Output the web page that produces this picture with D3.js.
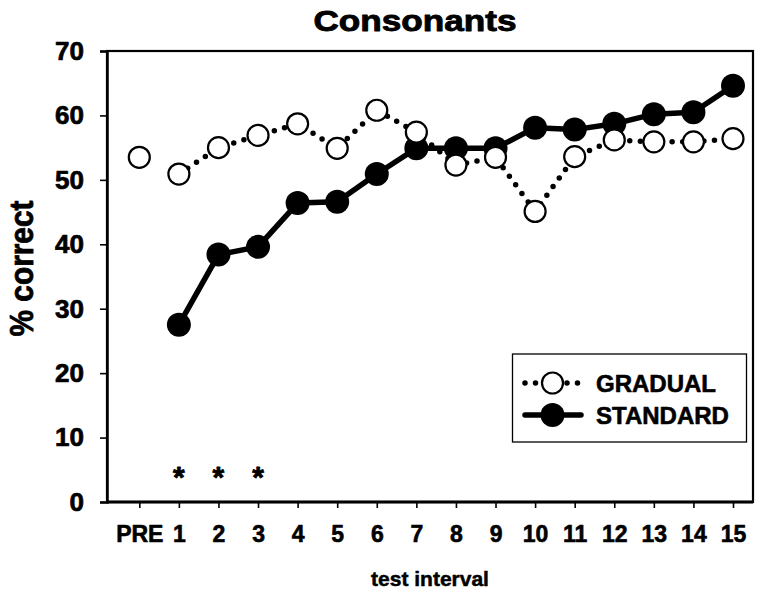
<!DOCTYPE html>
<html>
<head>
<meta charset="utf-8">
<script src="https://cdn.jsdelivr.net/npm/d3@7/dist/d3.min.js"></script>
<style>
  html, body { margin: 0; padding: 0; background: #fff; }
  svg { display: block; font-family: "Liberation Sans", Arial, Helvetica, sans-serif; font-weight: bold; }
</style>
</head>
<body>
<svg id="chart" width="762" height="594"></svg>
<script>
// ---- data ----
const categories = ["PRE","1","2","3","4","5","6","7","8","9","10","11","12","13","14","15"];
const gradual  = [53.5, 50.9, 55.0, 56.9, 58.7, 54.9, 60.8, 57.4, 52.3, 53.5, 45.1, 53.6, 56.2, 55.9, 55.9, 56.4];
const standard = [null, 27.5, 38.4, 39.6, 46.4, 46.6, 50.9, 54.9, 54.9, 54.9, 58.1, 57.8, 58.7, 60.2, 60.5, 64.6];
const significant = ["1","2","3"];
const yTicks = [0, 10, 20, 30, 40, 50, 60, 70];
const seriesNames = ["GRADUAL", "STANDARD"];

// ---- layout ----
const svg = d3.select("#chart");
const frame = { left: 107, right: 753, top: 51, bottom: 502 };

const x = d3.scalePoint().domain(categories).range([139.3, 733]);
const y = d3.scaleLinear().domain([0, 70]).range([frame.bottom, frame.top]);

function heavy(sel, w) {
  return sel.attr("fill", "#000").attr("stroke", "#000").attr("stroke-width", w)
    .attr("stroke-linejoin", "round").attr("font-weight", "bold")
    .attr("font-family", "Liberation Sans, Arial, sans-serif");
}

// frame (top & right)
svg.append("rect")
  .attr("x", frame.left).attr("y", frame.top)
  .attr("width", frame.right - frame.left).attr("height", frame.bottom - frame.top)
  .attr("fill", "none").attr("stroke", "#000").attr("stroke-width", 2.2);

// y axis
const yAxis = svg.append("g")
  .attr("transform", `translate(${frame.left},0)`)
  .call(d3.axisLeft(y).tickValues(yTicks).tickSize(7).tickPadding(16).tickFormat(d3.format("d")));
yAxis.select(".domain").attr("stroke-width", 2.5);
yAxis.selectAll(".tick line").attr("stroke-width", 1.6);
heavy(yAxis.selectAll("text").attr("font-size", 26), 0.7);

// x axis
const xAxis = svg.append("g")
  .attr("transform", `translate(0,${frame.bottom})`)
  .call(d3.axisBottom(x).tickSize(6).tickPadding(18).tickSizeOuter(0));
xAxis.select(".domain").attr("d", `M${frame.left},0H${frame.right}`).attr("stroke-width", 3);
xAxis.selectAll(".tick line").attr("stroke-width", 1.6);
heavy(xAxis.selectAll("text").attr("font-size", 23), 0.6);

// titles
heavy(svg.append("text").attr("x", 415).attr("y", 31).attr("text-anchor", "middle")
  .attr("font-size", 30).attr("textLength", 203).attr("lengthAdjust", "spacingAndGlyphs")
  .text("Consonants"), 0.9);
heavy(svg.append("text").attr("x", 430).attr("y", 586).attr("text-anchor", "middle")
  .attr("font-size", 21).text("test interval"), 0.5);
heavy(svg.append("text")
  .attr("transform", "translate(33,268.5) rotate(-90)")
  .attr("text-anchor", "middle").attr("font-size", 33)
  .attr("textLength", 136).attr("lengthAdjust", "spacingAndGlyphs")
  .text("% correct"), 0.8);

// significance stars
heavy(svg.selectAll("text.star").data(significant).enter().append("text")
  .attr("class", "star").attr("x", d => x(d)).attr("y", 487)
  .attr("text-anchor", "middle").attr("font-size", 30).text("*"), 0.8);

// STANDARD series
const stdData = categories.map((c, i) => ({ c, v: standard[i] })).filter(d => d.v != null);
const line = d3.line().x(d => x(d.c)).y(d => y(d.v));
svg.append("path").datum(stdData).attr("d", line)
  .attr("fill", "none").attr("stroke", "#000").attr("stroke-width", 5.5)
  .attr("stroke-linejoin", "round");
svg.selectAll("circle.std").data(stdData).enter().append("circle")
  .attr("class", "std").attr("cx", d => x(d.c)).attr("cy", d => y(d.v))
  .attr("r", 12).attr("fill", "#000");

// GRADUAL series (PRE not connected)
const gradData = categories.map((c, i) => ({ c, v: gradual[i] }));
svg.append("path").datum(gradData.slice(1)).attr("d", line)
  .attr("fill", "none").attr("stroke", "#000").attr("stroke-width", 5.5)
  .attr("stroke-linecap", "round").attr("stroke-dasharray", "0 10.6");
svg.selectAll("circle.grad").data(gradData).enter().append("circle")
  .attr("class", "grad").attr("cx", d => x(d.c)).attr("cy", d => y(d.v))
  .attr("r", 10.5).attr("fill", "#fff").attr("stroke", "#000").attr("stroke-width", 2.2);

// legend
const lg = svg.append("g");
lg.append("rect").attr("x", 512.5).attr("y", 354).attr("width", 234).attr("height", 88)
  .attr("fill", "#fff").attr("stroke", "#000").attr("stroke-width", 1.3);
const rows = [{ name: seriesNames[0], cy: 383 }, { name: seriesNames[1], cy: 415 }];
// gradual symbol
lg.append("line").attr("x1", 525).attr("x2", 580).attr("y1", rows[0].cy).attr("y2", rows[0].cy)
  .attr("stroke", "#000").attr("stroke-width", 5.5).attr("stroke-linecap", "round")
  .attr("stroke-dasharray", "0 10.5");
lg.append("circle").attr("cx", 552.5).attr("cy", rows[0].cy).attr("r", 10.5)
  .attr("fill", "#fff").attr("stroke", "#000").attr("stroke-width", 2.2);
// standard symbol
lg.append("line").attr("x1", 525).attr("x2", 581).attr("y1", rows[1].cy).attr("y2", rows[1].cy)
  .attr("stroke", "#000").attr("stroke-width", 5.5).attr("stroke-linecap", "round");
lg.append("circle").attr("cx", 552.5).attr("cy", rows[1].cy).attr("r", 12).attr("fill", "#000");
heavy(lg.selectAll("text.lab").data(rows).enter().append("text").attr("class", "lab")
  .attr("x", 596).attr("y", d => d.cy + 8.5).attr("font-size", 24).text(d => d.name), 0.6);
</script>
</body>
</html>
